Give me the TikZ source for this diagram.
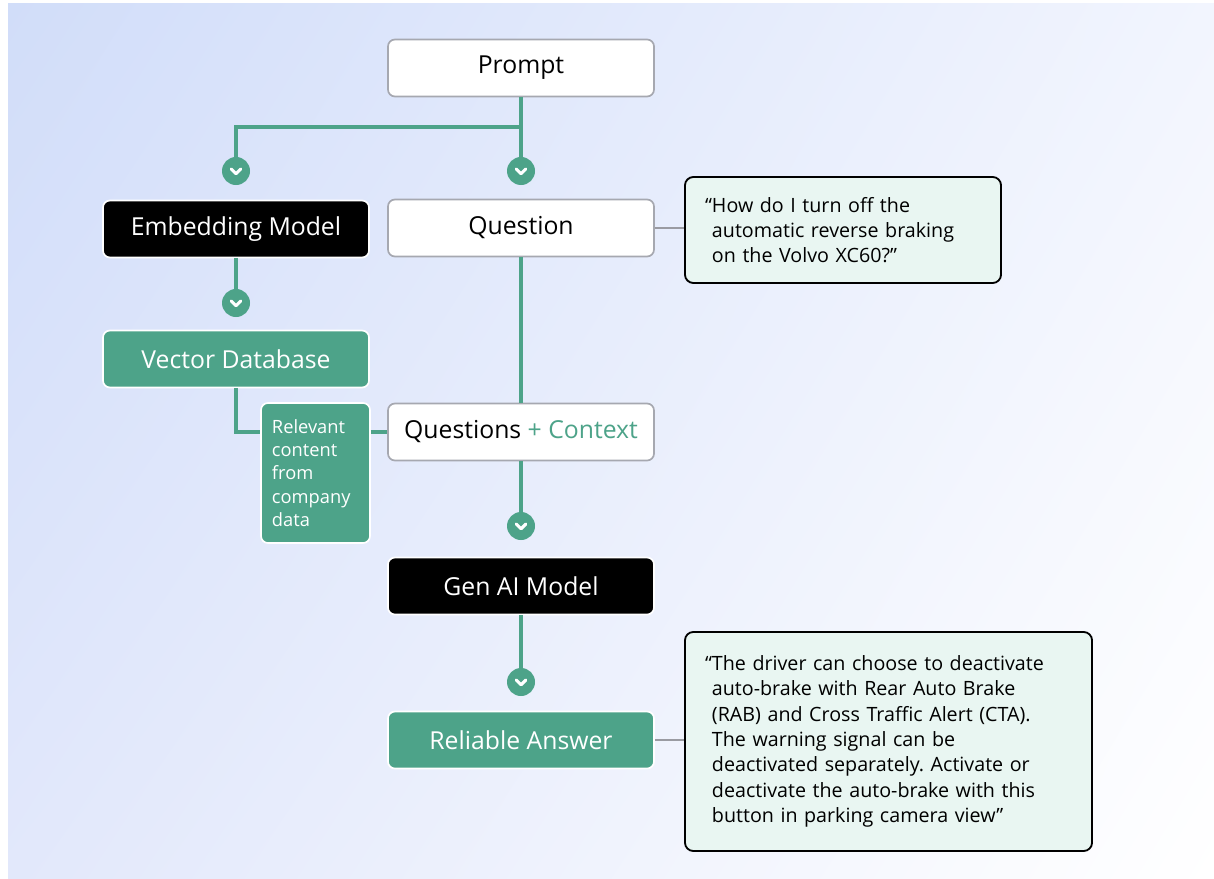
\documentclass[tikz,border=0pt]{standalone}
\usepackage{fontspec}
\setmainfont{Open Sans}
\usepackage{tikz}
\usetikzlibrary{shadings}
\definecolor{teal1}{HTML}{4DA389}
\definecolor{mint}{HTML}{E9F6F2}
\definecolor{boxgrey}{HTML}{A6A8B0}
\definecolor{linkgrey}{HTML}{9A9BA2}
\definecolor{bgtl}{HTML}{D1DDF9}
\definecolor{bgtr}{HTML}{F2F5FE}
\definecolor{bgbl}{HTML}{E2E8FB}

\begin{document}
\frenchspacing
\begin{tikzpicture}[x=0.025cm, y=-0.025cm,
        box/.style={rectangle, rounded corners=5pt, minimum width=6.65cm, minimum height=1.425cm, line width=1.2pt, font=\fontsize{17.6}{21}\selectfont},
        whitebox/.style={box, draw=boxgrey, fill=white, text=black},
        blackbox/.style={box, draw=white, fill=black, text=white},
        tealbox/.style={box, draw=white, fill=teal1, text=white},
        quotebox/.style={rectangle, rounded corners=6pt, draw=black, line width=1.3pt, fill=mint, align=left, inner xsep=0.675cm, font=\fontsize{14}{18}\selectfont},
        chev/.style={circle, fill=teal1, minimum size=0.7cm, inner sep=0pt,
            path picture={\draw[white, line width=2.2pt, line cap=round, line join=round]
                ([shift={(-0.12cm,0.05cm)}]path picture bounding box.center) --
                ([shift={(0cm,-0.07cm)}]path picture bounding box.center) --
                ([shift={(0.12cm,0.05cm)}]path picture bounding box.center);}},
        flow/.style={draw=teal1, line width=2.8pt},
        link/.style={draw=linkgrey, line width=2pt}]
        \useasboundingbox (0,0) rectangle (1214,879);
        \shade[upper left=bgtl, upper right=bgtr, lower left=bgbl, lower right=white] (8,4) rectangle (1214,878);

        \node[whitebox] (prompt) at (521,68) {Prompt};
        \coordinate (split) at (521,127);
        \node[chev] (chevE) at (236,171) {};
        \node[chev] (chevQ) at (521,171) {};
        \node[blackbox] (embed) at (236,229) {Embedding Model};
        \node[whitebox] (question) at (521,228) {Question};
        \node[quotebox, text width=6.55cm, minimum height=2.65cm] (ask) at (843,230)
            {\llap{“}How do I turn off the\\automatic reverse braking\\on the Volvo XC60?”};

        \node[chev] (chevV) at (236,303) {};
        \node[tealbox] (vecdb) at (236,359) {Vector Database};
        \node[tealbox, minimum width=2.725cm, minimum height=3.5cm, align=left, text width=2.175cm, inner xsep=0.275cm, font=\fontsize{13}{16.6}\selectfont] (relev) at (315.5,473)
            {Relevant\\content\\from\\company\\data};
        \node[whitebox] (qctx) at (521,432) {Questions \textcolor{teal1}{+ Context}};

        \node[chev] (chevG) at (521,526) {};
        \node[blackbox] (genai) at (521,586) {Gen AI Model};
        \node[chev] (chevR) at (521,682) {};
        \node[tealbox] (answer) at (521,740) {Reliable Answer};
        \node[quotebox, text width=8.825cm, minimum height=5.475cm] (reply) at (888.5,741.5)
            {\llap{“}The driver can choose to deactivate\\auto-brake with Rear Auto Brake\\(RAB) and Cross Traffic Alert (CTA).\\The warning signal can be\\deactivated separately. Activate or\\deactivate the auto-brake with this\\button in parking camera view”};

        \draw[flow] (prompt.south) -- (chevQ.north);
        \draw[flow] (split) -| (chevE.north);
        \draw[flow] (embed.south) -- (chevV.north);
        \draw[flow] (vecdb.south) |- (relev.west |- qctx.west);
        \draw[flow] (relev.east |- qctx.west) -- (qctx.west);
        \draw[flow] (question.south) -- (qctx.north);
        \draw[flow] (qctx.south) -- (chevG.north);
        \draw[flow] (genai.south) -- (chevR.north);
        \draw[link] (question.east) -- (question.east -| ask.west);
        \draw[link] (answer.east) -- (answer.east -| reply.west);
    \end{tikzpicture}
\end{document}
